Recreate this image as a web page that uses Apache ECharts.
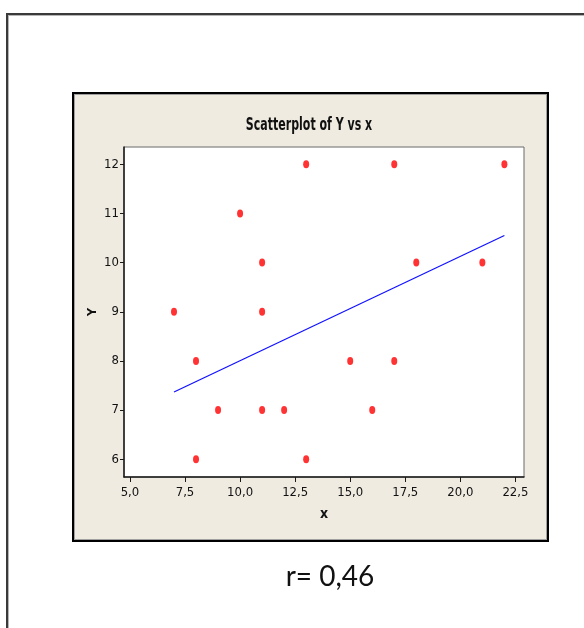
<!DOCTYPE html>
<html>
<head>
<meta charset="utf-8">
<script src="https://cdn.jsdelivr.net/npm/echarts@6/dist/echarts.min.js"></script>
<style>
  html, body { margin: 0; padding: 0; background: #fff; width: 584px; height: 628px; overflow: hidden; }
  #outer { position: absolute; left: 6px; top: 13px; width: 700px; height: 700px; border: 2px solid #3a3a3a; box-sizing: border-box; box-shadow: inset 0 0 0 1px #b5b5b5; }
  #panel { position: absolute; left: 72px; top: 92px; width: 477px; height: 450px; background: #EFEBE1; border: 2px solid #000; box-sizing: border-box; box-shadow: inset 0 0 0 1px #a0a0a0; }
  #chart { position: absolute; left: 0; top: 0; width: 584px; height: 628px; }
</style>
</head>
<body>
<div id="outer"></div>
<div id="panel"></div>
<div id="chart"></div>
<script>
// Data
const xValues = [7, 8, 8, 9, 10, 11, 11, 11, 12, 13, 13, 15, 16, 17, 17, 18, 21, 22];
const yValues = [9, 8, 6, 7, 11, 10, 9, 7, 7, 12, 6, 8, 7, 12, 8, 10, 10, 12];
const fitLineX = [7, 22];
const fitLineY = [7.37, 10.55];
const xTicks = [5, 7.5, 10, 12.5, 15, 17.5, 20, 22.5];
const yTicks = [6, 7, 8, 9, 10, 11, 12];
const titleText = 'Scatterplot of Y vs x';
const xName = 'x';
const yName = 'Y';
const rText = 'r= 0,46';

const points = xValues.map((x, i) => [x, yValues[i]]);
const linePts = fitLineX.map((x, i) => [x, fitLineY[i]]);

const narrow = '"Liberation Sans Narrow", "DejaVu Sans Condensed", "Liberation Sans", sans-serif';

const chart = echarts.init(document.getElementById('chart'), null, { renderer: 'canvas' });
chart.setOption({
  backgroundColor: 'transparent',
  animation: false,
  grid: {
    left: 124, top: 147, width: 400, height: 330,
    show: true, backgroundColor: '#ffffff', borderColor: '#6a6a6a', borderWidth: 1
  },
  xAxis: {
    type: 'value', min: 4.73, max: 22.89,
    axisLine: { onZero: false, lineStyle: { color: '#1a1a1a', width: 1.5 } },
    axisTick: { customValues: xTicks, length: 5, lineStyle: { color: '#1a1a1a' } },
    axisLabel: {
      customValues: xTicks, margin: 9, fontFamily: narrow, fontSize: 13, color: '#111',
      formatter: v => v.toFixed(1).replace('.', ',')
    },
    splitLine: { show: false },
    name: xName, nameLocation: 'middle', nameGap: 30, nameMoveOverlap: false,
    nameTextStyle: { fontFamily: narrow, fontWeight: 'bold', fontSize: 14, color: '#111' }
  },
  yAxis: {
    type: 'value', min: 5.64, max: 12.35,
    axisLine: { onZero: false, lineStyle: { color: '#1a1a1a', width: 1.5 } },
    axisTick: { customValues: yTicks, length: 4, lineStyle: { color: '#1a1a1a' } },
    axisLabel: {
      customValues: yTicks, margin: 5, fontFamily: narrow, fontSize: 13, color: '#111',
      formatter: v => String(v)
    },
    splitLine: { show: false },
    name: yName, nameLocation: 'middle', nameGap: 25, nameRotate: 90, nameMoveOverlap: false,
    nameTextStyle: { fontFamily: narrow, fontWeight: 'bold', fontSize: 13, color: '#111' }
  },
  graphic: [
    {
      type: 'text', x: 309, y: 126, scaleX: 0.72,
      style: { text: titleText, fontFamily: narrow, fontWeight: 'bold', fontSize: 17, fill: '#111', align: 'center', verticalAlign: 'middle' }
    },
    {
      type: 'text', x: 330, y: 577,
      style: { text: rText, fontFamily: 'Lato, "Open Sans", sans-serif', fontSize: 28, fill: '#111', align: 'center', verticalAlign: 'middle' }
    }
  ],
  series: [
    {
      type: 'line', data: linePts, showSymbol: false, symbol: 'none',
      lineStyle: { color: '#1010ff', width: 1.2 }, z: 2
    },
    {
      type: 'scatter', data: points, symbol: 'circle', symbolSize: [6, 8],
      itemStyle: { color: '#ff0000' }, z: 3
    }
  ]
});
</script>
</body>
</html>
